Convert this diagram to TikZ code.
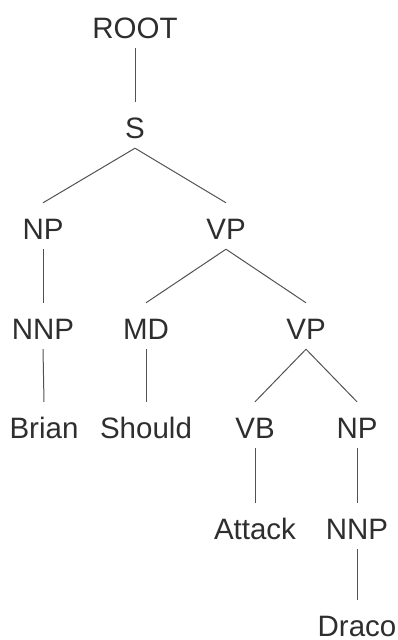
\documentclass[tikz,border=0pt]{standalone}
\usepackage{fontspec}
\setmainfont{Liberation Sans}
\begin{document}
\begin{tikzpicture}[x=1pt,y=-1pt,
  tag/.style={anchor=base, inner sep=0pt, text height=36pt, text depth=10pt,
    text=black!82, font=\fontsize{29.5pt}{34pt}\selectfont},
  leaf/.style={tag, text depth=0pt},
  edge/.style={draw=black!68, line width=1pt}]
  \useasboundingbox (0,0) rectangle (398,640);
  % level 0
  \node[tag] (root) at (135,38) {ROOT};
  % level 1
  \node[tag] (s) at (135,138) {S};
  % level 2
  \node[tag] (np1) at (43,239) {NP};
  \node[tag] (vp1) at (226,239) {VP};
  % level 3
  \node[tag] (nnp1) at (43,339) {NNP};
  \node[tag] (md) at (146,339) {MD};
  \node[tag] (vp2) at (306,339) {VP};
  % level 4
  \node[tag] (brian) at (44,438) {Brian};
  \node[tag] (should) at (146,438) {Should};
  \node[tag] (vb) at (255,438) {VB};
  \node[tag] (np2) at (357,438) {NP};
  % level 5
  \node[tag] (attack) at (255,539) {Attack};
  \node[tag] (nnp2) at (357,539) {NNP};
  % level 6
  \node[leaf] (draco) at (357,636) {Draco};
  % branches
  \draw[edge] (root.south) -- (s.north);
  \draw[edge] (s.south) -- (np1.north);
  \draw[edge] (s.south) -- (vp1.north);
  \draw[edge] (np1.south) -- (nnp1.north);
  \draw[edge] (vp1.south) -- (md.north);
  \draw[edge] (vp1.south) -- (vp2.north);
  \draw[edge] (nnp1.south) -- (brian.north);
  \draw[edge] (md.south) -- (should.north);
  \draw[edge] (vp2.south) -- (vb.north);
  \draw[edge] (vp2.south) -- (np2.north);
  \draw[edge] (vb.south) -- (attack.north);
  \draw[edge] (np2.south) -- (nnp2.north);
  \draw[edge] (nnp2.south) -- (draco.north);
\end{tikzpicture}
\end{document}
